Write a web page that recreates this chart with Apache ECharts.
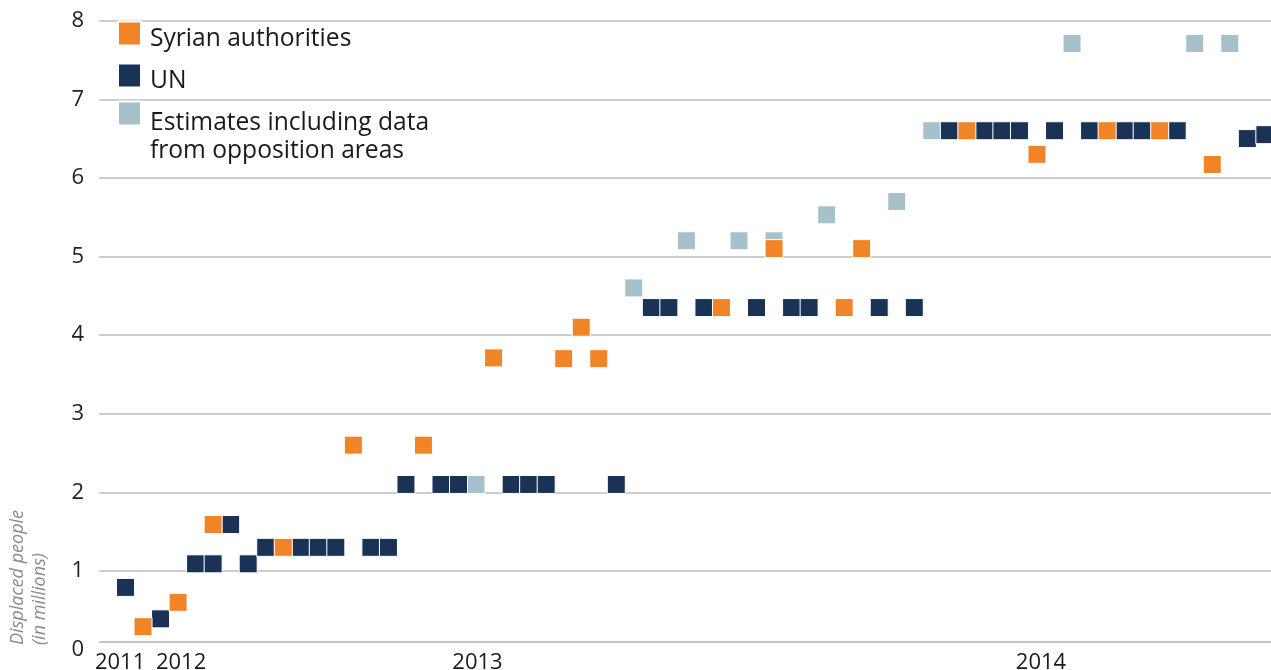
<!DOCTYPE html>
<html>
<head>
<meta charset="utf-8">
<script src="https://cdn.jsdelivr.net/npm/echarts@6/dist/echarts.min.js"></script>
<style>
  html, body { margin: 0; padding: 0; background: #ffffff; }
  #chart { width: 1271px; height: 670px; }
</style>
</head>
<body>
<div id="chart"></div>
<script>
// ---- Data (x = report slot index along the time axis, y = millions displaced) ----
const syrianSlots  = [1, 3, 5, 9, 13, 17, 21, 25, 26, 27, 34, 37, 41, 42, 48, 52, 56, 59, 62];
const syrianValues = [0.29, 0.60, 1.59, 1.30, 2.60, 2.60, 3.71, 3.70, 4.10, 3.70, 4.35, 5.10, 4.35, 5.10, 6.60, 6.30, 6.60, 6.60, 6.17];

const unSlots  = [0, 2, 4, 5, 6, 7, 8, 10, 11, 12, 14, 15, 16, 18, 19, 22, 23, 24, 28, 30, 31, 33, 36, 38, 39, 43, 45, 47, 49, 50, 51, 53, 55, 57, 58, 60, 64, 65];
const unValues = [0.79, 0.39, 1.09, 1.09, 1.59, 1.09, 1.30, 1.30, 1.30, 1.30, 1.30, 1.30, 2.10, 2.10, 2.10, 2.10, 2.10, 2.10, 2.10, 4.35, 4.35, 4.35, 4.35, 4.35, 4.35, 4.35, 4.35, 6.60, 6.60, 6.60, 6.60, 6.60, 6.60, 6.60, 6.60, 6.60, 6.50, 6.55];

const estSlots  = [20, 29, 32, 35, 37, 40, 44, 46, 54, 61, 63];
const estValues = [2.10, 4.60, 5.20, 5.20, 5.20, 5.53, 5.70, 6.60, 7.71, 7.71, 7.71];

const yearLabels = ['2011', '2012', '2013', '2014'];
const yearSlots  = [-0.31, 3.17, 20.08, 52.23];

const seriesNames = ['Syrian authorities', 'UN', 'Estimates including data from opposition areas'];
const legendLines = [['Syrian authorities'], ['UN'], ['Estimates including data', 'from opposition areas']];
const colors = ['#F08427', '#193256', '#A6C1CA'];

function zipPts(xs, ys) { return xs.map((x, i) => [x, ys[i]]); }

const chart = echarts.init(document.getElementById('chart'), null, { renderer: 'canvas' });

const FONT = '"Open Sans", "Noto Sans", sans-serif';

function legendFor(idx, top, gap) {
  return {
    data: [seriesNames[idx]],
    orient: 'vertical',
    left: 117,
    top: top,
    padding: 0,
    icon: 'rect',
    itemWidth: 23,
    itemHeight: 24,
    selectedMode: false,
    formatter: function () {
      return '{gap| }\n' + legendLines[idx].map(l => '{t|' + l + '}').join('\n');
    },
    textStyle: {
      padding: [0, 0, 0, 4],
      rich: {
        gap: { fontSize: 1, lineHeight: gap },
        t: { fontFamily: FONT, fontSize: 24.6, lineHeight: 28, color: '#1a1a1a' }
      }
    }
  };
}

const markerStyle = (c) => ({ color: c, opacity: 1, borderColor: '#ffffff', borderWidth: 1 });

chart.setOption({
  animation: false,
  backgroundColor: '#ffffff',
  color: colors,
  grid: {
    left: 99.2, right: 0, top: 20.7, bottom: 20.5,
    containLabel: false,
    outerBoundsMode: 'none'
  },
  legend: [
    legendFor(0, 19, 10),
    legendFor(1, 61, 10),
    legendFor(2, 85, 46)
  ],
  xAxis: {
    type: 'value',
    min: -1.5,
    max: 65.35,
    splitLine: { show: false },
    axisLine: { show: false },
    axisTick: { show: false },
    axisLabel: {
      customValues: yearSlots,
      margin: 2,
      fontFamily: FONT,
      fontSize: 22,
      color: '#1a1a1a',
      formatter: function (v) {
        let best = 0, bd = Infinity;
        yearSlots.forEach((s, i) => { const d = Math.abs(s - v); if (d < bd) { bd = d; best = i; } });
        return yearLabels[best];
      }
    }
  },
  yAxis: {
    type: 'value',
    min: 0,
    max: 8,
    interval: 1,
    axisLine: { show: false },
    axisTick: { show: false },
    splitLine: { show: true, showMinLine: false, lineStyle: { color: '#bcbcbc', width: 1.5 } },
    axisLabel: {
      margin: 15,
      fontFamily: FONT,
      fontSize: 22,
      color: '#222222'
    }
  },
  graphic: [
    {
      type: 'text',
      x: 7,
      y: 645,
      rotation: Math.PI / 2,
      style: {
        text: 'Displaced people\n(in millions)',
        font: 'italic 18px ' + FONT,
        fill: '#8a8a8a',
        align: 'left',
        verticalAlign: 'top',
        lineHeight: 22
      }
    }
  ],
  series: [
    {
      name: seriesNames[2],
      type: 'scatter',
      symbol: 'rect',
      symbolSize: 18,
      z: 2,
      itemStyle: markerStyle(colors[2]),
      data: zipPts(estSlots, estValues),
      markLine: {
        silent: true,
        symbol: 'none',
        label: { show: false },
        lineStyle: { color: '#b0b0b0', width: 1.5, type: 'solid' },
        data: [{ yAxis: 0.095 }]
      }
    },
    {
      name: seriesNames[1],
      type: 'scatter',
      symbol: 'rect',
      symbolSize: 18,
      z: 3,
      itemStyle: markerStyle(colors[1]),
      data: zipPts(unSlots, unValues)
    },
    {
      name: seriesNames[0],
      type: 'scatter',
      symbol: 'rect',
      symbolSize: 18,
      z: 4,
      itemStyle: markerStyle(colors[0]),
      data: zipPts(syrianSlots, syrianValues)
    }
  ]
});
</script>
</body>
</html>
